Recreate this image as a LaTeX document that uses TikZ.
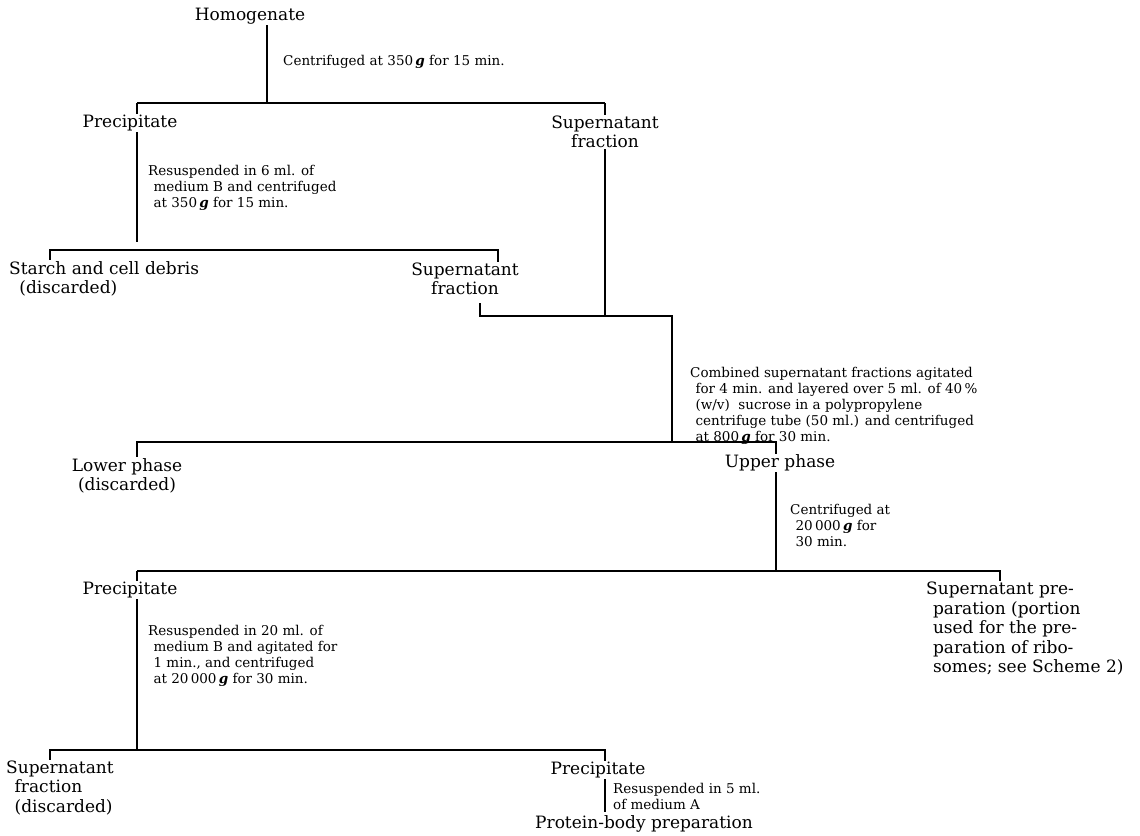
\documentclass[tikz,border=0pt]{standalone}
\usepackage{fontspec}
\setmainfont{DejaVu Serif}
\newcommand{\gbf}{\textbf{\textit{g}}}
\pgfdeclarelayer{bg}
\pgfsetlayers{bg,main}
\begin{document}
\begin{tikzpicture}[x=1pt,y=-1pt,
  lbl/.style={font=\fontsize{17}{19.5}\selectfont, inner sep=1pt, fill=white, align=center},
  note/.style={font=\fontsize{13.5}{16}\selectfont, inner sep=0pt, align=left, anchor=west},
  wire/.style={line width=1.1pt}]
\useasboundingbox (0,0) rectangle (1140,835);

% ---- texts ----
\node[lbl] (hom) at (250,16) {Homogenate};
\node[note] (c1) at (283,62) {Centrifuged at 350\,\gbf{} for 15 min.};
\node[lbl] (p1) at (130,123) {Precipitate};
\node[lbl] (s1) at (605,132) {Supernatant\\fraction};
\node[note] (c2) at (148,188) {Resuspended in 6 ml. of\\\hspace*{0.4em}medium B and centrifuged\\\hspace*{0.4em}at 350\,\gbf{} for 15 min.};
\node[lbl, align=left, anchor=west] (st) at (8,279) {Starch and cell debris\\\hspace*{0.6em}(discarded)};
\node[lbl] (s2) at (465,279) {Supernatant\\fraction};
\node[note] (c3) at (690,406) {Combined supernatant fractions agitated\\\hspace*{0.4em}for 4 min. and layered over 5 ml. of 40\,\%\\\hspace*{0.4em}(w/v)\ \ sucrose in a polypropylene\\\hspace*{0.4em}centrifuge tube (50 ml.) and centrifuged\\\hspace*{0.4em}at 800\,\gbf{} for 30 min.};
\node[lbl] (lo) at (127,476) {Lower phase\\(discarded)};
\node[lbl] (up) at (780,463) {Upper phase};
\node[note] (c4) at (790,525) {Centrifuged at\\\hspace*{0.4em}20\,000\,\gbf{} for\\\hspace*{0.4em}30 min.};
\node[lbl] (p2) at (130,590) {Precipitate};
\node[note] (c5) at (148,656) {Resuspended in 20 ml. of\\\hspace*{0.4em}medium B and agitated for\\\hspace*{0.4em}1 min., and centrifuged\\\hspace*{0.4em}at 20\,000\,\gbf{} for 30 min.};
\node[lbl, align=left, anchor=north west] (sp) at (925,581) {Supernatant pre-\\\hspace*{0.4em}paration (portion\\\hspace*{0.4em}used for the pre-\\\hspace*{0.4em}paration of ribo-\\\hspace*{0.4em}somes; see Scheme 2)};
\node[lbl, align=left, anchor=west] (s3) at (5,788) {Supernatant\\\hspace*{0.5em}fraction\\\hspace*{0.5em}(discarded)};
\node[lbl] (p3) at (598,770) {Precipitate};
\node[note] (c6) at (613,796) {Resuspended in 5 ml.\\of medium A};
\node[lbl] (pr) at (644,824) {Protein-body preparation};

% ---- junction points ----
\coordinate (j1) at (267,103);
\coordinate (a1) at (137,103);
\coordinate (a2) at (605,103);
\coordinate (e1) at (137,242);
\coordinate (b1) at (50,250);
\coordinate (b2) at (498,250);
\coordinate (m0) at (480,303);
\coordinate (m1) at (480,316);
\coordinate (m2) at (605,316);
\coordinate (m3) at (672,316);
\coordinate (d1) at (137,442);
\coordinate (d2) at (672,442);
\coordinate (d3) at (776,442);
\coordinate (f1) at (137,571);
\coordinate (f2) at (776,571);
\coordinate (f3) at (1000,571);
\coordinate (g1) at (50,750);
\coordinate (g2) at (137,750);
\coordinate (g3) at (605,750);
\coordinate (g4) at (605,812);

\begin{pgfonlayer}{bg}
\draw[wire] (hom.center -| j1) -- (j1);
\draw[wire] (a1) -- (a2);
\draw[wire] (a1) -- (p1.center -| a1) -- (e1);
\draw[wire] (a2) -- (s1.center -| a2) -- (m2);
\draw[wire] (st.north -| b1) -- (b1) -- (b2) -- (s2.north -| b2);
\draw[wire] (m0) -- (m1) -- (m2) -- (m3) -- (d2);
\draw[wire] (lo.north -| d1) -- (d1) -- (d3) -- (up.center -| d3) -- (f2);
\draw[wire] (f1) -- (f3) -- (sp.north -| f3);
\draw[wire] (f1) -- (p2.center -| f1) -- (g2);
\draw[wire] (s3.north -| g1) -- (g1) -- (g3) -- (p3.center -| g3) -- (g4);
\end{pgfonlayer}
\end{tikzpicture}
\end{document}
